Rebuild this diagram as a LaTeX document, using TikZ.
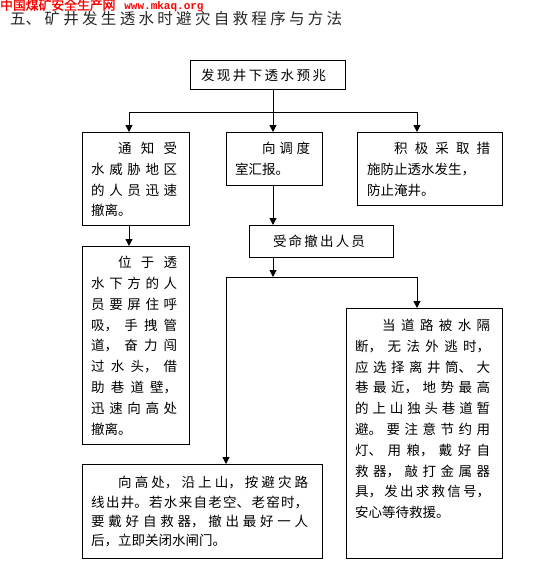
\documentclass[tikz,border=0pt]{standalone}
\usepackage{fontspec}
\usetikzlibrary{arrows.meta}
\newfontfamily\cjk{Noto Sans CJK SC}
\newfontfamily\cjkbold[FakeBold=1.5]{Noto Sans CJK SC}
\newfontfamily\sitemono{Liberation Mono}
\XeTeXlinebreaklocale "zh"
\XeTeXlinebreakskip=0pt plus 4pt
\tolerance=10000
\hbadness=10000

\begin{document}
\begin{tikzpicture}[x=1pt,y=-1pt,
  box/.style={draw, line width=1pt, anchor=north west, inner sep=0pt},
  boxtext/.style={anchor=north west, inner sep=0pt, text width=#1, align=justify,
    font=\cjk\fontsize{13.5}{20.8}\selectfont},
  fulljust/.style={execute at begin node={\parfillskip=0pt}},
  link/.style={line width=1pt},
  arr/.style={line width=1pt, -{Triangle[length=7pt,width=7pt]}}]

\useasboundingbox (0,0) rectangle (542,586);

% heading
\node[anchor=west, inner sep=0pt, text=red, font=\cjkbold\fontsize{12.8}{12.8}\selectfont] (site) at (0,5.5) {中国煤矿安全生产网\hspace{9pt}{\sitemono\bfseries\fontsize{11}{11}\selectfont www.mkaq.org}};
\node[anchor=west, inner sep=0pt, text width=332pt, align=justify, fulljust, text=black!85,
  font=\cjk\fontsize{15.5}{18}\selectfont] (title) at (10,19) {五、矿井发生透水时避灾自救程序与方法};

% boxes
\node[box, minimum width=155pt, minimum height=29pt] (find) at (190,60) {};
\node[box, minimum width=107pt, minimum height=93pt] (notify) at (82,132) {};
\node[box, minimum width=96pt, minimum height=53pt] (report) at (226,132) {};
\node[box, minimum width=145pt, minimum height=73pt] (prevent) at (357,132) {};
\node[box, minimum width=144pt, minimum height=32pt] (order) at (249,225) {};
\node[box, minimum width=107pt, minimum height=198pt] (below) at (82,246) {};
\node[box, minimum width=156pt, minimum height=250pt] (trapped) at (346,308) {};
\node[box, minimum width=240pt, minimum height=94pt] (uphill) at (82,464) {};

% texts
\node[boxtext=125pt, fulljust, anchor=center] (findtxt) at (263.5,75) {发现井下透水预兆};
\node[boxtext=86pt] (notifytxt) at (91,142) {\hspace*{2em}通知受\linebreak 水威胁地区\linebreak 的人员迅速\linebreak 撤离。};
\node[boxtext=75pt] (reporttxt) at (235,142) {\hspace*{2em}向调度\linebreak 室汇报。};
\node[boxtext=123pt] (preventtxt) at (367,142) {\hspace*{2em}积极采取措\linebreak 施防止透水发生，\\ 防止淹井。};
\node[boxtext=92pt, fulljust, anchor=center] (ordertxt) at (319,241) {受命撤出人员};
\node[boxtext=86pt] (belowtxt) at (91,256) {\hspace*{2em}位于透\linebreak 水下方的人\linebreak 员要屏住呼\linebreak 吸，手拽管\linebreak 道，奋力闯\linebreak 过水头，借\linebreak 助巷道壁，\linebreak 迅速向高处\linebreak 撤离。};
\node[boxtext=135pt] (trappedtxt) at (355,319) {\hspace*{2em}当道路被水隔\linebreak 断，无法外逃时，\linebreak 应选择离井筒、大\linebreak 巷最近，地势最高\linebreak 的上山独头巷道暂\linebreak 避。要注意节约用\linebreak 灯、用粮，戴好自\linebreak 救器，敲打金属器\linebreak 具，发出求救信号，\linebreak 安心等待救援。};
\node[boxtext=217pt, font=\cjk\fontsize{13.5}{19.4}\selectfont] (uphilltxt) at (91,476) {\hspace*{2em}向高处，沿上山，按避灾路\linebreak 线出井。若水来自老空、老窑时，\linebreak 要戴好自救器，撤出最好一人\linebreak 后，立即关闭水闸门。};

% connectors
\coordinate (s1) at (273,112);
\coordinate (sl) at (129,112);
\coordinate (sr) at (417,112);
\coordinate (s2) at (273,277);
\coordinate (tl) at (226,277);
\coordinate (tr) at (417,277);

\draw[link] (s1 |- find.south) -- (s1);
\draw[link] (sl) -- (sr);
\draw[arr] (sl) -- (sl |- notify.north);
\draw[arr] (s1) -- (s1 |- report.north);
\draw[arr] (sr) -- (sr |- prevent.north);
\draw[arr] (s1 |- report.south) -- (s1 |- order.north);
\draw[arr] (sl |- notify.south) -- (sl |- below.north);
\draw[arr] (s2 |- order.south) -- (s2);
\draw[link] (tl) -- (tr);
\draw[arr] (tr) -- (tr |- trapped.north);
\draw[arr] (tl) -- (tl |- uphill.north);
\end{tikzpicture}
\end{document}
